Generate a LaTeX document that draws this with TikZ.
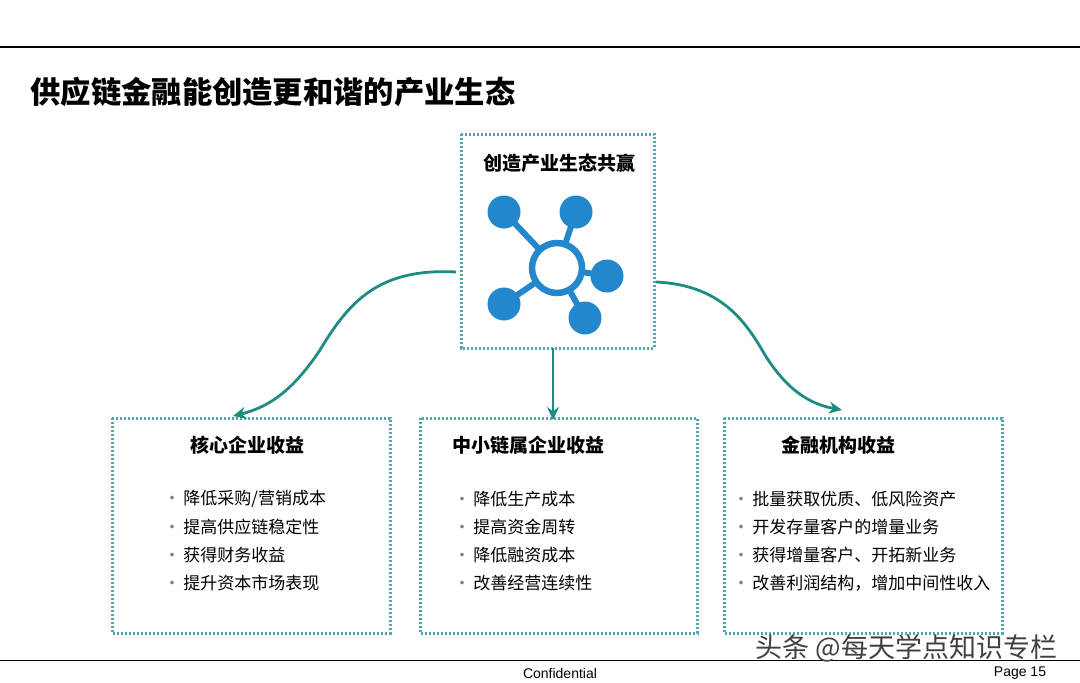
\documentclass[tikz,border=0pt]{standalone}
\usepackage{fontspec}
\setmainfont{Liberation Sans}
\newfontfamily\cjk{Noto Sans CJK SC}
\usetikzlibrary{arrows.meta}
\definecolor{dotc}{RGB}{80,165,175}
\definecolor{arr}{RGB}{30,140,130}
\definecolor{netc}{RGB}{35,135,205}
\begin{document}
\begin{tikzpicture}[x=1pt,y=-1pt,
  box/.style={draw=dotc,line width=3pt,dash pattern=on 2.2pt off 1.8pt},
  hd/.style={font=\cjk\bfseries\fontsize{19}{22}\selectfont,anchor=center},
  item/.style={font=\cjk\fontsize{17}{20}\selectfont,anchor=west},
  sat/.style={circle,fill=netc,minimum size=33pt,inner sep=0},
  con/.style={draw=arr,line width=2.8pt,-{Stealth[length=13pt,width=12pt]}}]
\useasboundingbox (0,0) rectangle (1080,683);
\draw[line width=1.2pt] (0,47) -- (1080,47);
\draw[line width=1pt] (0,660) -- (1080,660);
\node[font=\cjk\bfseries\fontsize{30.3}{34}\selectfont,anchor=west] (title) at (27,92) {供应链金融能创造更和谐的产业生态};
% center box
\draw[box] (461,134) rectangle (654,348);
\node[hd] (ctitle) at (559,163) {创造产业生态共赢};
\coordinate (cbot) at (553,348);
\coordinate (cleft) at (456,272);
\coordinate (cright) at (656,282);
\foreach \p in {(504,212),(576,212),(607,276),(504,304),(585,318)} \draw[netc,line width=6pt] (557,268) -- \p;
\node[circle,draw=netc,fill=white,line width=6.5pt,minimum size=50pt,inner sep=0] (hub) at (557,268) {};
\node[sat] (s1) at (504,212) {};
\node[sat] (s2) at (576,212) {};
\node[sat] (s3) at (607,276) {};
\node[sat] (s4) at (504,304) {};
\node[sat] (s5) at (585,318) {};
% boxes
\draw[box] (112,418) rectangle (390,633);
\draw[box] (420,418) rectangle (697,633);
\draw[box] (724,418) rectangle (1002,633);
\coordinate (lt) at (233,416);
\coordinate (mt) at (553,420);
\coordinate (rt) at (842,410);
\node[hd] (h1) at (247,445) {核心企业收益};
\node[hd] (h2) at (528,445) {中小链属企业收益};
\node[hd] (h3) at (838,445) {金融机构收益};
\foreach \t [count=\i] in {降低采购/营销成本,提高供应链稳定性,获得财务收益,提升资本市场表现}
  \node[item] (a\i) at (160,471+28*\i) {{\color{gray}·}\,\t};
\foreach \t [count=\i] in {降低生产成本,提高资金周转,降低融资成本,改善经营连续性}
  \node[item] (b\i) at (450,471+28*\i) {{\color{gray}·}\,\t};
\foreach \t [count=\i] in {批量获取优质、低风险资产,开发存量客户的增量业务,获得增量客户、开拓新业务,改善利润结构，增加中间性收入}
  \node[item] (c\i) at (729,471+28*\i) {{\color{gray}·}\,\t};
% connectors
\draw[con] (cleft) .. controls (380,268) and (350,300) .. (320,350) .. controls (290,395) and (265,408) .. (lt);
\draw[con] (cbot) -- (mt);
\draw[con] (cright) .. controls (720,285) and (745,320) .. (765,355) .. controls (790,395) and (815,405) .. (rt);
% footer
\node[font=\fontsize{14}{16}\selectfont] (conf) at (560,673) {Confidential};
\node[font=\fontsize{14}{16}\selectfont] (page) at (1020,673) {Page 15};
\node[font=\cjk\fontsize{27}{30}\selectfont,text=black!75,anchor=west] (wm) at (752,648) {头条 @每天学点知识专栏};
\end{tikzpicture}
\end{document}
